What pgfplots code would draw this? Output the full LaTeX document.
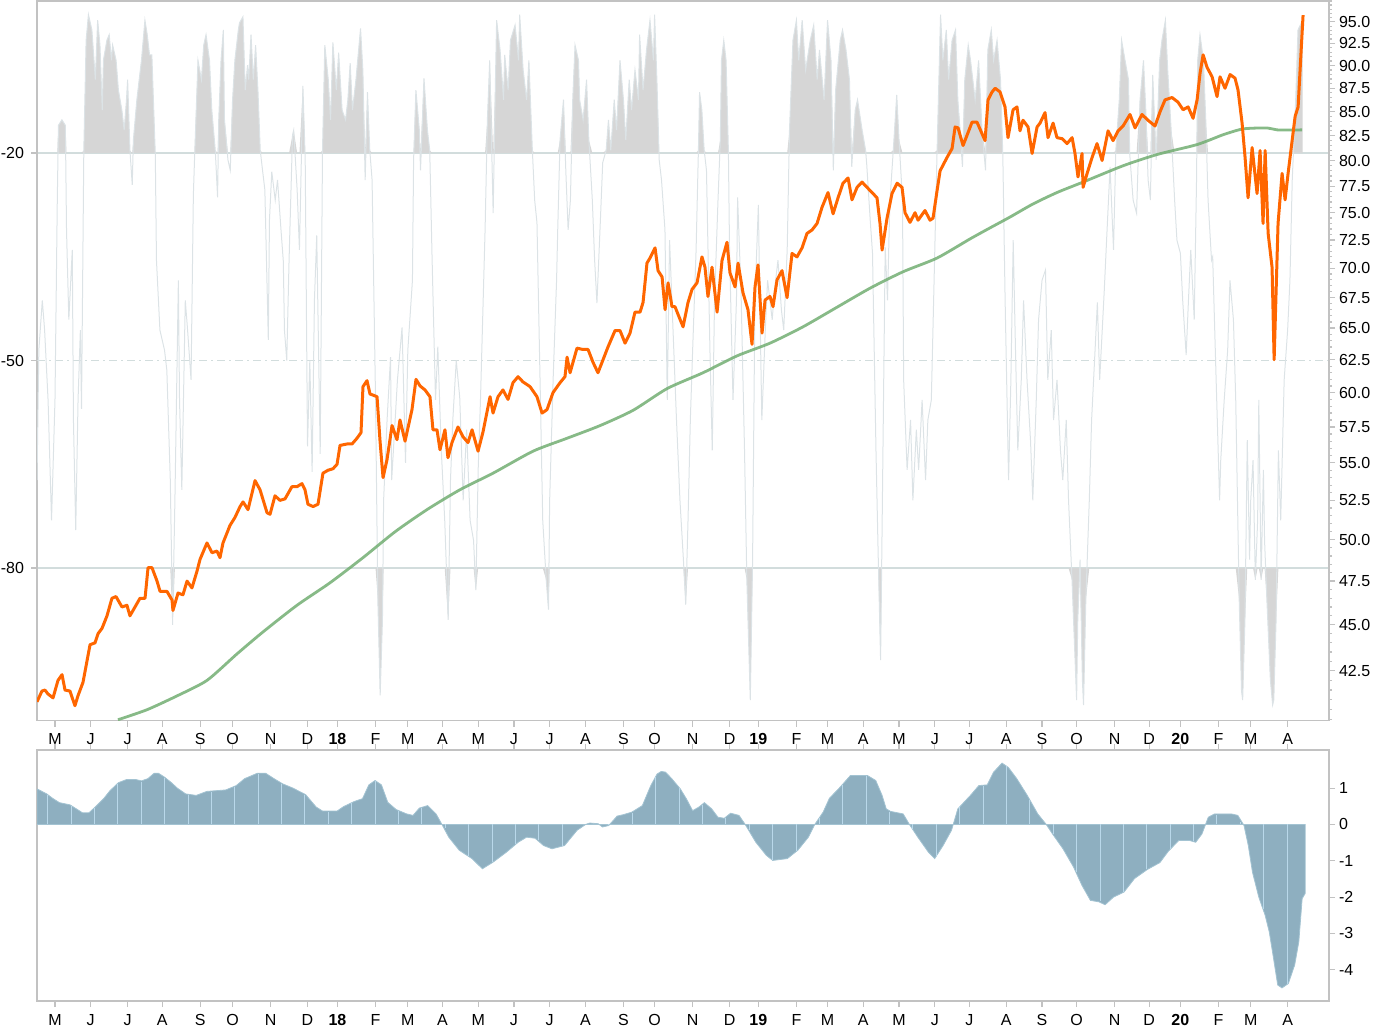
\documentclass[border=0pt]{standalone}
\usepackage{fontspec}
\setmainfont{Liberation Sans}
\usepackage{pgfplots}
\usepackage{pgfplotstable}
\pgfplotsset{compat=1.18}
\definecolor{framec}{HTML}{C2C2C2}
\definecolor{gridc}{HTML}{D2DDDD}
\definecolor{oscfill}{HTML}{D6D6D6}
\definecolor{oscline}{HTML}{DCE3E6}
\definecolor{pricec}{HTML}{FF6600}
\definecolor{mac}{HTML}{72AE72}
\definecolor{histc}{HTML}{8EAFC0}
\definecolor{histedge}{HTML}{A3C3D2}
\definecolor{histline}{HTML}{B9D8EA}

% oscillator (left scale, top panel)
\pgfplotstableread{
x y
-15.6 -67.3
-14 -48.5
-11 -41.3
-9 -45.6
-6 -55.7
-3 -73.1
0 -55.7
2 -26.8
3 -16.0
6 -15.2
9 -16.0
10 -31.1
12 -44.1
15 -34.0
16 -58.6
18 -74.5
20 -55.7
22 -45.6
23 -57.0
25 -19.6
27 -3.7
29 0.0
32 -2.2
35 -9.4
37 -0.8
39 -4.4
41 -13.8
42 -6.6
45 -3.7
47 -2.9
49 -6.6
50 -4.4
53 -6.6
55 -10.9
58 -13.8
60 -16.7
62 -12.3
63 -9.4
65 -19.6
67 -24.6
68 -18.1
71 -12.3
74 -8.0
75 -6.6
78 -0.8
80 -2.9
82 -5.8
84 -5.8
87 -20.3
88 -35.5
91 -45.6
95 -48.5
97 -51.4
100 -67.3
102 -88.2
104 -70.2
107 -38.4
108 -55.7
110 -68.7
113 -41.3
115 -45.6
118 -52.8
120 -26.1
121 -21.0
124 -6.6
127 -9.4
129 -4.4
131 -2.9
134 -6.6
136 -13.8
139 -19.6
141 -26.4
142 -15.2
144 -6.6
146 -2.2
147 -15.2
150 -21.0
152 -22.5
154 -12.3
156 -6.6
159 -2.2
160 -1.2
163 -0.3
165 -10.9
167 -7.3
168 -9.4
170 -2.9
172 -9.4
174 -4.4
176 -10.9
178 -19.6
180 -22.5
182 -25.3
185 -47.0
186 -29.7
188 -22.7
191 -26.8
193 -23.9
196 -31.1
198 -35.6
199 -45.6
201 -50.0
203 -35.5
206 -17.4
207 -16.7
210 -25.3
212 -34.0
215 -10.3
217 -21.0
219 -62.4
221 -50.0
223 -66.1
225 -41.3
227 -31.9
230 -63.5
232 -19.6
234 -4.4
237 -9.4
239 -15.2
241 -4.0
244 -10.9
246 -5.5
249 -13.8
252 -15.2
254 -12.3
256 -7.0
258 -13.8
261 -9.4
265 -2.0
267 -8.0
269 -23.9
271 -11.2
273 -19.6
275 -23.9
278 -55.7
280 -84.6
282 -98.4
284 -87.5
285 -70.2
288 -58.6
291 -49.5
292 -67.3
295 -58.6
297 -52.8
301 -45.2
304 -64.8
306 -48.5
310 -38.4
311 -21.0
313 -10.9
316 -16.7
317 -22.5
320 -9.2
323 -16.7
325 -19.6
327 -35.0
330 -55.7
332 -48.0
335 -62.9
338 -73.1
341 -87.5
343 -67.3
345 -58.6
348 -50.0
351 -55.3
354 -70.2
357 -60.0
360 -73.1
363 -76.0
365 -83.2
367 -65.8
369 -55.7
373 -31.1
375 -15.2
377 -6.6
380 -28.7
382 -9.4
383 -0.8
386 -5.1
389 -12.3
390 -5.8
393 -10.9
395 -3.7
399 -1.5
402 -6.6
403 0.0
406 -8.0
409 -12.3
411 -6.6
414 -19.6
416 -26.8
418 -30.1
421 -55.7
423 -73.1
426 -81.7
428 -86.0
429 -70.2
432 -52.8
435 -38.4
436 -31.1
438 -18.1
441 -12.3
443 -22.5
445 -31.1
447 -26.8
449 -12.3
451 -4.4
454 -6.6
455 -12.3
458 -15.2
461 -9.4
463 -18.1
466 -26.8
468 -35.5
470 -41.7
473 -29.7
475 -21.4
478 -19.6
480 -15.2
482 -19.6
485 -12.3
487 -16.7
490 -6.6
493 -12.3
495 -18.1
498 -9.4
500 -13.8
503 -8.0
506 -12.3
507 -2.9
510 -10.9
513 -5.1
516 -0.8
519 -6.6
520 0.0
522 -9.4
524 -21.0
526 -23.9
529 -31.1
531 -55.7
533 -32.6
536 -45.6
539 -58.6
542 -70.2
545 -78.8
547 -85.3
549 -73.1
551 -58.6
553 -48.5
556 -34.0
558 -19.6
559 -11.2
561 -13.8
563 -19.6
565 -22.5
568 -48.5
570 -63.0
572 -41.3
575 -26.8
577 -18.1
578 -6.6
580 -3.7
582 -6.6
584 -19.6
585 -34.0
588 -55.7
591 -41.3
592 -26.4
595 -40.2
598 -63.0
600 -81.7
603 -99.1
605 -78.8
607 -41.3
610 -27.5
611 -38.4
613 -58.6
616 -45.6
618 -38.4
622 -44.1
624 -39.8
627 -35.5
630 -42.7
632 -45.6
635 -34.0
637 -16.7
640 -3.7
643 -0.8
645 -6.6
648 -0.8
651 -8.0
655 -3.7
658 -1.5
661 -9.4
663 -5.1
667 -12.3
670 -0.8
673 -6.6
675 -22.5
677 -10.9
681 -3.7
683 -2.2
686 -5.1
689 -9.4
691 -22.0
694 -13.8
696 -12.3
700 -16.7
703 -19.6
704 -21.7
707 -29.7
709 -34.5
712 -63.0
714 -78.8
716 -93.3
717 -78.8
720 -33.6
722 -41.3
724 -27.2
727 -19.6
730 -11.6
732 -18.1
735 -26.8
736 -52.8
739 -65.8
742 -58.6
744 -70.2
747 -60.0
749 -65.8
752 -55.7
755 -67.3
757 -58.6
760 -55.7
762 -41.3
765 -19.6
768 0.0
770 -6.6
773 -2.2
775 -9.4
778 -3.7
781 -2.2
783 -12.3
787 -22.0
789 -9.4
792 -4.4
794 -6.6
798 -12.3
801 -6.6
804 -16.7
807 -22.5
809 -5.1
812 -2.2
814 -6.6
817 -3.7
820 -9.4
822 -20.3
824 -41.3
827 -67.3
829 -52.8
831 -32.6
833 -48.5
835 -63.0
838 -52.8
840 -41.3
843 -52.8
846 -61.5
848 -70.2
851 -55.7
853 -44.1
856 -38.4
859 -36.9
861 -52.8
864 -45.6
866 -58.6
869 -52.8
872 -63.0
874 -67.3
877 -58.6
879 -70.2
882 -81.7
884 -90.4
886 -99.1
887 -87.5
889 -78.8
891 -96.1
892 -99.8
894 -84.6
897 -70.2
899 -58.6
902 -48.5
904 -41.6
906 -52.8
910 -39.8
912 -32.6
915 -22.0
918 -34.0
920 -19.6
923 -12.3
925 -3.7
928 -6.6
931 -9.4
932 -20.0
935 -26.8
938 -28.7
941 -12.3
944 -6.6
946 -13.8
948 -23.9
950 -26.8
952 -8.7
955 -21.0
958 -6.6
960 -3.7
963 -0.8
965 -8.0
968 -16.7
971 -26.8
973 -32.6
976 -34.5
978 -41.3
981 -49.2
983 -41.3
985 -34.0
988 -44.1
990 -23.9
991 -6.6
993 -2.9
996 -6.6
998 -15.2
1000 -26.8
1003 -35.5
1004 -35.0
1007 -52.8
1010 -70.2
1011 -64.4
1014 -55.7
1017 -48.5
1019 -38.4
1022 -44.1
1024 -55.7
1027 -84.6
1029 -97.7
1030 -99.1
1032 -87.5
1034 -61.5
1036 -78.8
1037 -70.2
1039 -64.4
1041 -81.7
1043 -73.1
1044 -55.7
1046 -81.7
1048 -65.8
1049 -76.0
1051 -84.6
1054 -96.1
1056 -99.8
1057 -99.1
1059 -87.5
1061 -63.0
1063 -73.1
1066 -52.8
1069 -45.6
1071 -38.4
1073 -23.9
1076 -12.3
1078 -2.2
1080 -1.5
1082 -0.8
}\osc

% price (right log scale)
\pgfplotstableread{
x y
-15.6 40.9
-11.3 41.45
-8.7 41.5
-6.1 41.3
-1.7 41.1
2.6 42.0
6.1 42.3
8.7 41.5
13.0 41.45
17.3 40.7
19.9 41.2
24.3 41.9
30.4 43.9
34.7 44.0
37.3 44.5
40.8 44.8
45.1 45.5
49.4 46.5
52.9 46.6
58.1 46.0
62.4 46.1
65.0 45.5
69.4 46.0
73.7 46.5
78.1 46.5
80.7 48.3
84.1 48.3
88.5 47.5
91.1 46.9
97.1 46.9
101.5 46.4
102.3 45.8
106.7 46.8
111.0 46.7
114.5 47.5
118.8 47.1
123.2 48.1
125.8 48.8
131.8 49.8
136.2 49.2
140.5 49.3
143.1 48.9
145.7 49.8
151.8 50.9
156.1 51.4
160.5 52.1
163.1 52.4
167.4 51.9
173.5 53.8
177.8 53.2
183.9 51.7
186.5 51.6
190.8 52.8
195.1 52.5
199.5 52.6
205.5 53.4
209.9 53.4
214.2 53.6
216.8 53.2
219.4 52.25
223.8 52.1
228.1 52.25
232.4 54.3
236.8 54.5
241.1 54.6
244.6 54.9
247.2 56.2
253.3 56.3
257.6 56.3
261.9 56.7
265.4 57.1
267.1 60.45
270.6 60.9
273.2 59.9
274.9 59.85
279.3 59.7
281.9 56.5
284.5 54.0
287.9 55.2
292.3 57.6
296.6 56.6
299.2 58.0
303.6 56.5
309.6 58.75
313.1 61.0
316.6 60.5
320.9 60.2
325.2 59.7
327.8 57.3
331.3 57.3
333.9 55.9
338.2 57.3
340.8 55.35
344.3 56.4
349.5 57.5
353.9 56.8
358.2 56.4
361.7 57.3
366.9 55.8
371.2 57.15
377.3 59.7
379.9 58.5
384.2 59.7
388.5 60.2
392.9 59.5
397.2 60.75
401.6 61.2
405.9 60.8
412.0 60.45
418.0 59.7
422.4 58.5
426.7 58.75
431.9 60.0
438.0 60.75
442.3 61.2
444.1 62.7
446.7 61.5
452.7 63.4
457.9 63.3
462.3 63.3
466.6 62.3
470.9 61.5
475.3 62.5
479.6 63.5
485.7 64.8
490.0 64.8
494.4 63.8
498.7 64.6
503.0 66.3
507.4 66.3
510.0 67.1
513.4 70.45
516.0 70.9
520.4 71.8
523.0 69.8
526.5 69.25
529.1 66.5
531.7 68.75
535.1 66.75
537.7 66.75
542.1 65.7
544.7 65.1
549.0 67.1
552.5 68.2
556.8 68.75
561.1 71.0
563.7 70.1
566.3 67.6
569.8 70.1
574.2 66.3
578.5 70.7
582.8 72.3
585.4 69.6
589.8 68.4
592.4 70.45
596.7 67.9
601.0 66.5
604.5 63.7
607.1 68.4
609.7 70.3
613.2 64.6
615.8 67.3
620.1 67.6
622.7 66.75
626.2 69.0
630.5 69.8
634.9 67.5
639.2 71.3
643.5 71.0
647.9 71.8
652.2 73.1
656.5 73.4
660.9 74.0
665.2 75.5
670.4 76.9
674.8 74.9
679.1 76.4
683.4 77.8
687.8 78.3
691.2 76.2
695.6 77.4
699.9 77.9
704.2 77.4
708.6 76.9
712.9 76.4
715.5 74.0
717.3 71.6
721.6 74.5
725.9 76.8
730.3 77.8
734.6 77.4
737.2 75.0
741.5 74.1
745.9 75.0
748.5 74.3
754.5 75.2
758.9 74.3
761.5 74.5
765.0 77.1
767.6 79.0
773.6 80.3
778.0 81.2
780.6 83.4
783.2 83.3
787.5 81.5
791.8 82.8
795.3 83.9
799.6 83.9
804.0 82.7
806.6 82.0
809.2 86.25
812.7 87.1
815.3 87.5
819.6 87.1
823.9 85.5
826.5 82.3
830.9 85.2
834.3 85.5
836.9 83.0
839.5 84.1
843.9 83.4
847.4 80.7
851.7 83.4
854.3 83.8
858.6 84.9
861.2 82.3
865.6 83.8
869.0 82.3
873.4 82.2
877.7 81.7
882.1 82.3
884.6 80.7
887.2 78.4
890.7 80.7
891.6 77.4
895.1 78.75
899.4 80.3
903.7 81.7
908.1 80.0
913.3 83.0
917.6 82.0
922.0 83.0
926.3 83.5
932.3 84.7
936.7 83.3
942.7 84.7
947.9 84.1
954.0 83.5
958.4 85.0
962.7 86.25
968.8 86.5
974.0 86.0
978.3 85.2
982.7 85.5
987.0 84.3
990.5 86.25
993.1 89.2
995.7 91.2
999.1 89.8
1003.5 88.75
1007.8 86.6
1010.4 88.75
1014.7 87.5
1019.1 89.0
1023.4 88.6
1026.0 87.3
1029.5 83.8
1032.1 80.3
1034.7 76.4
1038.2 81.3
1042.5 76.8
1045.1 81.0
1047.7 74.0
1049.5 81.0
1052.1 73.1
1055.5 70.1
1057.3 62.5
1060.7 74.0
1064.2 78.75
1066.8 76.2
1069.4 78.75
1072.9 82.0
1075.5 84.5
1078.1 85.5
1079.8 89.5
1082.4 95.8
}\price

% moving average (right log scale)
\pgfplotstableread{
x y
54.6 40.0
79.8 40.5
105.8 41.2
131.8 42.0
157.8 43.4
180.4 44.6
209.9 46.1
238.5 47.4
267.1 48.9
295.0 50.5
322.6 51.9
351.3 53.2
379.9 54.3
414.6 55.8
444.0 56.7
472.7 57.6
501.3 58.7
530.8 60.3
562.0 61.5
591.5 62.8
620.1 63.8
648.7 65.1
678.2 66.7
706.9 68.3
735.5 69.7
765.0 70.9
793.6 72.6
811.0 73.6
828.3 74.6
848.0 75.8
869.0 76.9
891.6 77.9
926.3 79.5
955.8 80.6
990.5 81.6
1013.0 82.6
1030.4 83.2
1051.2 83.3
1059.9 83.1
1081.5 83.1
}\mavg

% histogram (bottom panel)
\pgfplotstableread{
x y
-15.6 0.98
-7.1 0.84
-1.6 0.71
3.9 0.60
13.0 0.54
18.5 0.43
23.9 0.32
29.4 0.32
34.9 0.48
42.2 0.71
47.7 0.93
55.0 1.15
62.3 1.24
69.6 1.24
75.0 1.20
80.5 1.26
86.0 1.41
89.7 1.41
95.1 1.30
100.6 1.16
106.1 1.00
113.4 0.84
122.5 0.80
131.7 0.91
148.1 0.95
157.2 1.07
164.4 1.26
175.5 1.41
182.7 1.41
190.0 1.26
197.3 1.12
206.4 1.00
217.4 0.82
226.5 0.48
232.0 0.37
244.7 0.37
250.2 0.49
259.4 0.63
266.7 0.71
272.2 1.09
277.6 1.21
283.1 1.09
288.6 0.61
295.9 0.41
305.0 0.29
310.5 0.25
316.0 0.45
323.2 0.52
330.5 0.29
336.1 -0.03
341.5 -0.35
350.6 -0.71
361.6 -0.94
370.7 -1.22
379.8 -1.04
390.8 -0.78
401.7 -0.49
409.0 -0.35
416.4 -0.38
423.7 -0.58
431.0 -0.67
441.9 -0.58
452.8 -0.16
460.2 0.00
463.8 0.04
471.1 0.02
474.8 -0.07
480.2 -0.03
487.5 0.23
493.0 0.27
500.3 0.34
509.4 0.52
516.7 1.07
522.2 1.39
525.8 1.46
529.5 1.44
534.9 1.26
542.3 0.98
547.5 0.71
553.0 0.38
558.5 0.48
563.2 0.60
569.5 0.43
574.9 0.20
580.4 0.17
585.9 0.31
593.2 0.25
598.6 0.00
607.8 -0.49
616.9 -0.85
622.4 -0.99
635.1 -0.94
644.2 -0.71
653.4 -0.35
658.9 0.00
666.2 0.34
671.6 0.72
680.7 1.02
689.9 1.35
704.5 1.35
711.8 1.21
717.3 0.80
720.9 0.43
724.6 0.36
735.6 0.29
741.0 0.00
748.3 -0.35
757.4 -0.76
762.9 -0.94
770.2 -0.58
777.5 -0.16
783.0 0.43
793.9 0.80
801.2 1.07
808.5 1.09
814.0 1.44
821.3 1.69
826.8 1.57
834.1 1.26
843.2 0.80
852.3 0.29
859.7 0.00
865.1 -0.26
874.2 -0.67
883.3 -1.17
890.7 -1.68
898.0 -2.09
905.3 -2.13
910.7 -2.21
918.0 -2.00
927.1 -1.86
936.2 -1.49
947.3 -1.24
958.2 -1.05
965.5 -0.74
974.6 -0.44
983.8 -0.44
989.3 -0.49
994.7 -0.26
1000.2 0.20
1005.6 0.29
1020.2 0.29
1025.8 0.25
1031.2 -0.03
1034.9 -0.58
1038.5 -1.31
1044.0 -2.00
1049.5 -2.50
1053.1 -2.96
1056.8 -3.69
1060.4 -4.42
1064.1 -4.50
1069.6 -4.38
1075.1 -3.87
1078.7 -3.23
1081.6 -2.04
1084.2 -1.90
}\hist

% light bar separators inside the histogram
\pgfplotstableread{
x y
-6.3 0.80
14.0 0.50
34.3 0.44
54.5 1.11
74.8 1.18
95.1 1.28
115.4 0.81
135.7 0.90
155.9 1.03
176.2 1.39
196.5 1.12
216.8 0.81
237.1 0.35
257.3 0.58
277.6 1.19
297.9 0.36
318.2 0.45
338.5 -0.11
358.7 -0.87
379.0 -1.04
399.3 -0.54
419.6 -0.44
439.9 -0.58
460.1 0.00
480.4 -0.02
500.7 0.32
521.0 1.30
541.3 1.00
561.5 0.54
581.8 0.17
602.1 -0.16
622.4 -0.97
642.7 -0.74
662.9 0.17
683.2 1.09
703.5 1.33
723.8 0.35
744.1 -0.12
764.3 -0.88
784.6 0.51
804.9 1.06
825.2 1.60
845.5 0.67
865.7 -0.26
886.0 -1.32
906.3 -2.12
926.6 -1.85
946.9 -1.23
967.1 -0.67
987.4 -0.45
1007.7 0.27
1028.0 0.08
1048.3 -2.34
1068.5 -4.38
}\seps

\pgfplotsset{
  panel/.style={
    scale only axis, width=646pt, xmin=-15.6, xmax=1104.9,
    axis line style={framec, line width=0.7pt},
    tick style={framec, line width=0.6pt},
    major tick length=3pt, minor tick length=1.5pt, tick align=outside,
    ticklabel style={font=\fontsize{8}{9}\selectfont, text=black},
    xtick={0,31,63,93,126,154,187,219,245,278,306,336,367,398,429,460,493,520,553,585,610,643,670,701,732,763,793,825,856,886,919,949,976,1009,1037,1069},
    xticklabels={M,J,J,A,S,O,N,D,\textbf{18},F,M,A,M,J,J,A,S,O,N,D,\textbf{19},F,M,A,M,J,J,A,S,O,N,D,\textbf{20},F,M,A},
  },
}

\begin{document}
\begin{tikzpicture}
\useasboundingbox (0,0) rectangle (692pt,513.5pt);

% top panel: oscillator on the left scale
\begin{axis}[panel, at={(18.5pt,153.15pt)}, anchor=south west, height=359.85pt,
  ymin=-102.07, ymax=1.98,
  ytick={-80,-20}, yticklabels={-80,-20},
  extra y ticks={-50}, extra y tick labels={-50},
  ymajorgrids, major grid style={gridc, line width=0.6pt},
  extra y tick style={grid=major, major grid style={gridc, line width=0.6pt, dash pattern=on 4pt off 2pt on 1pt off 2pt}},
  ytick pos=left, xtick pos=bottom]
% shaded zones above -20 and below -80
\addplot[fill=oscfill, draw=none] table[x=x, y expr={max(\thisrow{y},-20)}] {\osc}
  -- (axis cs:1082,-20) -- (axis cs:-15.6,-20) -- cycle;
\addplot[fill=oscfill, draw=none] table[x=x, y expr={min(\thisrow{y},-80)}] {\osc}
  -- (axis cs:1082,-80) -- (axis cs:-15.6,-80) -- cycle;
\addplot[oscline, line width=0.5pt] table {\osc};
\end{axis}

% top panel: price and average on the right log scale
\begin{axis}[panel, at={(18.5pt,153.15pt)}, anchor=south west, height=359.85pt,
  ymode=log, ymin=39.96, ymax=97.5,
  hide x axis, axis y line*=right,
  ytick={42.5,45,47.5,50,52.5,55,57.5,60,62.5,65,67.5,70,72.5,75,77.5,80,82.5,85,87.5,90,92.5,95},
  yticklabels={42.5,45.0,47.5,50.0,52.5,55.0,57.5,60.0,62.5,65.0,67.5,70.0,72.5,75.0,77.5,80.0,82.5,85.0,87.5,90.0,92.5,95.0},
  minor ytick={40,40.5,...,97.5},
  yticklabel style={xshift=-1.5pt}]
\addplot[mac, line width=1.4pt, opacity=0.85, smooth, tension=0.4] table {\mavg};
\addplot[pricec, line width=1.5pt, line join=round] table {\price};
\end{axis}

% bottom panel: histogram
\begin{axis}[panel, at={(18.5pt,13pt)}, anchor=south west, height=125.5pt,
  ymin=-4.86, ymax=2.05,
  ytick={-4,-3,-2,-1,0,1}, yticklabels={-4,-3,-2,-1,0,1},
  ytick pos=right, xtick pos=both, xticklabel pos=bottom,
  yticklabel style={xshift=-1.5pt}]
\addplot[fill=histc, draw=histedge, line width=0.4pt] table {\hist} \closedcycle;
\addplot[ycomb, histline, line width=0.5pt] table {\seps};
\end{axis}
\end{tikzpicture}
\end{document}
